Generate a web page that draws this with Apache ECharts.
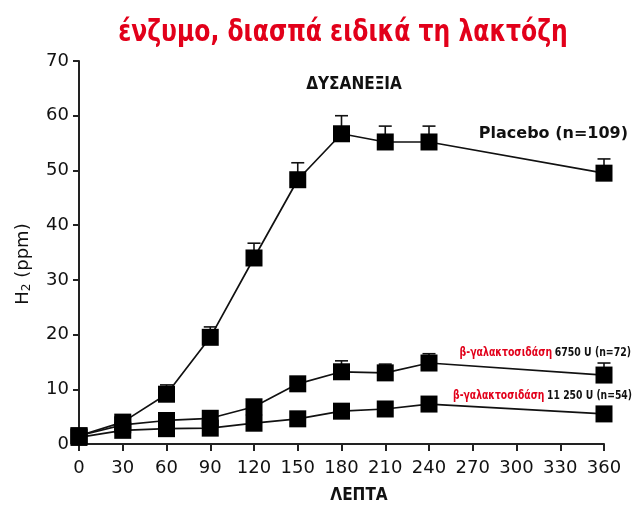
<!DOCTYPE html>
<html>
<head>
<meta charset="utf-8">
<script src="https://cdn.jsdelivr.net/npm/echarts@6/dist/echarts.min.js"></script>
<style>html,body{margin:0;padding:0;background:#fff}#c{width:637px;height:524px}</style>
</head>
<body>
<div id="c"></div>
<script>
var minutes = [0, 30, 60, 90, 120, 150, 180, 210, 240, 360];
var placebo = [1.5, 4.0, 9.1, 19.5, 34.0, 48.3, 56.7, 55.2, 55.2, 49.5];
var placeboErr = [0, 0, 1.7, 1.9, 2.7, 3.1, 3.3, 2.9, 2.9, 2.6];
var lactase6750 = [1.5, 3.5, 4.3, 4.7, 6.8, 11.0, 13.2, 13.0, 14.8, 12.6];
var lactase6750Err = [0, 0, 0, 0, 0, 0, 2.0, 1.6, 1.7, 2.2];
var lactase11250 = [1.2, 2.5, 2.8, 2.9, 3.8, 4.6, 6.0, 6.4, 7.3, 5.5];
var lactase11250Err = [0, 0, 0, 0, 0, 0, 0, 0, 0, 0];
var xTicks = [0, 30, 60, 90, 120, 150, 180, 210, 240, 270, 300, 330, 360];
var yTicks = [0, 10, 20, 30, 40, 50, 60, 70];

var condensed = '"DejaVu Sans Condensed", "Liberation Sans Narrow", "Roboto Condensed", "DejaVu Sans"';
var plain = '"DejaVu Sans", sans-serif';

function pairs(vals) { return minutes.map(function (m, i) { return [m, vals[i]]; }); }
function errPairs(vals, errs) {
  var out = [];
  minutes.forEach(function (m, i) { if (errs[i] > 0) out.push([m, vals[i], vals[i] + errs[i]]); });
  return out;
}
function errSeries(data) {
  return {
    type: 'custom', z: 1, silent: true,
    renderItem: function (params, api) {
      var p0 = api.coord([api.value(0), api.value(1)]);
      var p1 = api.coord([api.value(0), api.value(2)]);
      return {
        type: 'group', children: [
          { type: 'line', shape: { x1: p0[0], y1: p0[1], x2: p1[0], y2: p1[1] }, style: { stroke: '#111', lineWidth: 1.6 } },
          { type: 'line', shape: { x1: p1[0] - 6.5, y1: p1[1], x2: p1[0] + 6.5, y2: p1[1] }, style: { stroke: '#111', lineWidth: 1.6 } }
        ]
      };
    },
    data: data
  };
}
function lineSeries(name, vals) {
  return {
    name: name, type: 'line', z: 3, data: pairs(vals),
    symbol: 'rect', symbolSize: 17, showAllSymbol: true,
    lineStyle: { color: '#111', width: 1.7 },
    itemStyle: { color: '#000' }
  };
}

var chart = echarts.init(document.getElementById('c'), null, { renderer: 'canvas' });
chart.setOption({
  animation: false,
  backgroundColor: '#fff',
  grid: { left: 79, right: 33, top: 61, bottom: 80, containLabel: false },
  xAxis: {
    type: 'value', min: 0, max: 360, interval: 30,
    axisLine: { show: true, onZero: false, lineStyle: { color: '#222', width: 2 } },
    axisTick: { show: true, length: 7, lineStyle: { color: '#222', width: 2 } },
    splitLine: { show: false },
    axisLabel: { color: '#111', fontSize: 18, fontFamily: plain, margin: 15 }
  },
  yAxis: {
    type: 'value', min: 0, max: 70, interval: 10,
    axisLine: { show: true, lineStyle: { color: '#222', width: 2 } },
    axisTick: { show: true, length: 6, lineStyle: { color: '#222', width: 2 } },
    splitLine: { show: false },
    axisLabel: { color: '#111', fontSize: 18, fontFamily: plain, margin: 10 }
  },
  graphic: [
    { type: 'text', x: 343, y: 33, scaleX: 0.87, style: { text: 'ένζυμο, διασπά ειδικά τη λακτόζη', fill: '#e2001a', font: 'bold 30px ' + condensed, align: 'center', verticalAlign: 'middle' } },
    { type: 'text', x: 354, y: 85, style: { text: 'ΔΥΣΑΝΕΞΙΑ', fill: '#111', font: 'bold 17px ' + condensed, align: 'center', verticalAlign: 'middle' } },
    { type: 'text', x: 359, y: 496, style: { text: 'ΛΕΠΤΑ', fill: '#111', font: 'bold 17px ' + condensed, align: 'center', verticalAlign: 'middle' } },
    { type: 'text', x: 23, y: 264, rotation: Math.PI / 2, style: { text: '{a|H}{s|2}{a| (ppm)}', align: 'center', verticalAlign: 'middle',
        rich: { a: { fill: '#111', font: '18px ' + plain }, s: { fill: '#111', font: '12px ' + plain, verticalAlign: 'bottom', padding: [8, 0, 0, 0] } } } },
    { type: 'text', x: 628, y: 134, style: { text: 'Placebo (n=109)', fill: '#111', font: 'bold 16px ' + plain, align: 'right', verticalAlign: 'middle' } },
    { type: 'text', x: 631, y: 353, scaleX: 0.8, style: { text: '{r|β-γαλακτοσιδάση} {k|6750 U (n=72)}', align: 'right', verticalAlign: 'middle',
        rich: { r: { fill: '#e2001a', font: 'bold 13px ' + condensed }, k: { fill: '#111', font: 'bold 13px ' + condensed } } } },
    { type: 'text', x: 632, y: 396, scaleX: 0.79, style: { text: '{r|β-γαλακτοσιδάση} {k|11 250 U (n=54)}', align: 'right', verticalAlign: 'middle',
        rich: { r: { fill: '#e2001a', font: 'bold 13px ' + condensed }, k: { fill: '#111', font: 'bold 13px ' + condensed } } } }
  ],
  series: [
    errSeries(errPairs(placebo, placeboErr)),
    errSeries(errPairs(lactase6750, lactase6750Err)),
    errSeries(errPairs(lactase11250, lactase11250Err)),
    lineSeries('Placebo', placebo),
    lineSeries('β-γαλακτοσιδάση 6750 U', lactase6750),
    lineSeries('β-γαλακτοσιδάση 11 250 U', lactase11250)
  ]
});
</script>
</body>
</html>
